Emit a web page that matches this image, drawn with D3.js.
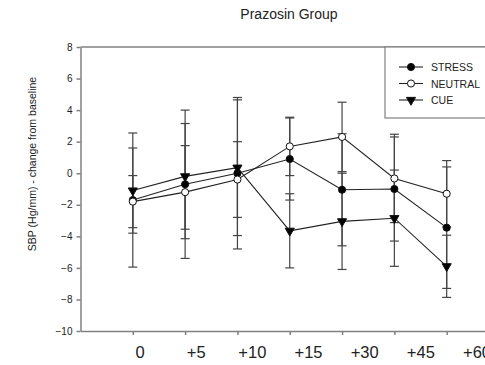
<!DOCTYPE html>
<html>
<head>
<meta charset="utf-8">
<script src="https://cdn.jsdelivr.net/npm/d3@7"></script>
<style>
	body { margin: 0; background: #fff; }
	svg { display: block; font-family: "Liberation Sans", Arial, sans-serif; }
	.axis path, .axis line { stroke: #808080; stroke-width: 1.5; }
	.axis text { fill: #222; }
</style>
</head>
<body>
<script>
'use strict'
const timeLabels = ["0", "+5", "+10", "+15", "+30", "+45", "+60"];

const stressMean = [-1.7, -0.7, 0.0, 0.9, -1.05, -1.0, -3.45];
const stressErr = [4.25, 4.7, 4.8, 2.6, 3.55, 3.3, 3.85];
const neutralMean = [-1.8, -1.2, -0.4, 1.7, 2.3, -0.33, -1.3];
const neutralErr = [1.65, 2.95, 2.4, 1.85, 2.2, 2.8, 2.1];
const cueMean = [-1.1, -0.2, 0.35, -3.65, -3.05, -2.85, -5.9];
const cueErr = [2.7, 3.35, 4.3, 2.35, 3.05, 3.05, 1.97];

const yTicks = [-10, -8, -6, -4, -2, 0, 2, 4, 6, 8];

const w = 485;
const h = 365;

const series = [
	{ name: "STRESS", mean: stressMean, err: stressErr, symbol: "circle", fill: "#000" },
	{ name: "NEUTRAL", mean: neutralMean, err: neutralErr, symbol: "circle", fill: "#fff" },
	{ name: "CUE", mean: cueMean, err: cueErr, symbol: "triangle", fill: "#000" }
];

const xScale = d3.scaleLinear()
	.domain([-1, 7])
	.range([80.5, 499]);

// the labels under the axis sit a bit right of their ticks
const labelScale = d3.scaleLinear()
	.domain([0, 6])
	.range([140, 477]);

const yScale = d3.scaleLinear()
	.domain([-10, 8])
	.range([331, 47]);

const svg = d3.select("body")
	.append("svg")
	.attr("width", w)
	.attr("height", h);

// title
svg.append("text")
	.attr("x", 289)
	.attr("y", 19)
	.attr("text-anchor", "middle")
	.style("font-size", "14px")
	.attr("fill", "#222")
	.text("Prazosin Group");

// y axis title
svg.append("text")
	.attr("transform", "translate(36,164) rotate(-90)")
	.attr("text-anchor", "middle")
	.style("font-size", "10.5px")
	.attr("fill", "#222")
	.text("SBP (Hg/mm) - change from baseline");

// top frame line
svg.append("line")
	.attr("x1", xScale(-1))
	.attr("x2", w)
	.attr("y1", yScale(8))
	.attr("y2", yScale(8))
	.attr("stroke", "#808080")
	.attr("stroke-width", 1.5);

const yAxis = d3.axisLeft(yScale)
	.tickValues(yTicks)
	.tickSize(4)
	.tickPadding(4)
	.tickSizeOuter(0);

svg.append("g")
	.attr("class", "axis")
	.attr("transform", "translate(" + xScale(-1) + ",0)")
	.call(yAxis)
	.selectAll("text")
	.style("font-size", "10px");

const xAxis = d3.axisBottom(xScale)
	.tickValues(d3.range(timeLabels.length))
	.tickFormat("")
	.tickSize(4)
	.tickSizeOuter(0);

svg.append("g")
	.attr("class", "axis")
	.attr("transform", "translate(0," + yScale(-10) + ")")
	.call(xAxis);

svg.selectAll(".xlabel")
	.data(timeLabels)
	.enter()
	.append("text")
	.attr("class", "xlabel")
	.attr("x", (d, i) => labelScale(i))
	.attr("y", 358)
	.attr("text-anchor", "middle")
	.style("font-size", "16.5px")
	.attr("fill", "#222")
	.text((d) => d);

// error bars
const capW = 4.5;
series.forEach((s) => {
	const g = svg.append("g");
	s.mean.forEach((m, i) => {
		const x = xScale(i);
		const hi = yScale(m + s.err[i]);
		const lo = yScale(m - s.err[i]);
		g.append("line").attr("x1", x).attr("x2", x).attr("y1", hi).attr("y2", lo);
		g.append("line").attr("x1", x - capW).attr("x2", x + capW).attr("y1", hi).attr("y2", hi);
		g.append("line").attr("x1", x - capW).attr("x2", x + capW).attr("y1", lo).attr("y2", lo);
	});
	g.selectAll("line")
		.attr("stroke", "#444")
		.attr("stroke-width", 1.2);
});

const line = d3.line()
	.x((d, i) => xScale(i))
	.y((d) => yScale(d));

series.forEach((s) => {
	svg.append("path")
		.datum(s.mean)
		.attr("d", line)
		.attr("fill", "none")
		.attr("stroke", "#222")
		.attr("stroke-width", 1.1);
});

const circleSym = d3.symbol().type(d3.symbolCircle).size(40);
const triSym = d3.symbol().type(d3.symbolTriangle).size(36);

function drawMarker(sel, s) {
	sel.append("path")
		.attr("d", s.symbol === "circle" ? circleSym() : triSym())
		.attr("transform", (s.symbol === "triangle" ? " rotate(180)" : ""))
		.attr("fill", s.fill)
		.attr("stroke", "#111")
		.attr("stroke-width", 1);
}

series.forEach((s) => {
	s.mean.forEach((m, i) => {
		const g = svg.append("g")
			.attr("transform", "translate(" + xScale(i) + "," + yScale(m) + ")");
		drawMarker(g, s);
	});
});

// legend
const legend = svg.append("g");
legend.append("rect")
	.attr("x", 385)
	.attr("y", 47)
	.attr("width", 120)
	.attr("height", 71)
	.attr("fill", "#fff")
	.attr("stroke", "#808080")
	.attr("stroke-width", 1.2);

const legendY = [67, 83.5, 100];
series.forEach((s, i) => {
	const item = legend.append("g")
		.attr("transform", "translate(411," + legendY[i] + ")");
	item.append("line")
		.attr("x1", -12)
		.attr("x2", 12)
		.attr("stroke", "#222")
		.attr("stroke-width", 1.1);
	drawMarker(item, s);
	item.append("text")
		.attr("x", 20)
		.attr("y", 4)
		.style("font-size", "10.5px")
		.attr("fill", "#222")
		.text(s.name);
});
</script>
</body>
</html>
